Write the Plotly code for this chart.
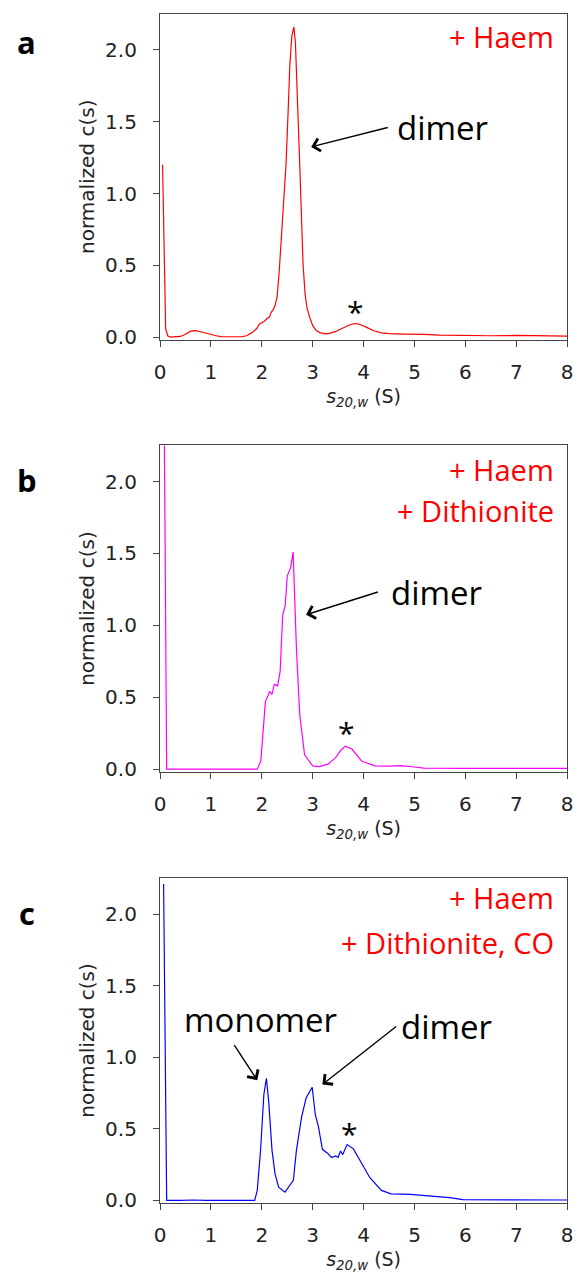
import plotly.graph_objects as go

# ---------------- data ----------------
# Panel a: + Haem
s_a = [0.05, 0.08, 0.11, 0.15, 0.2, 0.4, 0.5, 0.6, 0.7, 0.8, 0.9, 1.0, 1.1, 1.2, 1.4, 1.6, 1.7,
       1.8, 1.9, 1.95, 2.0, 2.05, 2.1, 2.15, 2.18, 2.22, 2.26, 2.30, 2.34, 2.38, 2.43, 2.475,
       2.52, 2.55, 2.59, 2.63, 2.66, 2.68, 2.71, 2.745, 2.78, 2.81, 2.85, 2.89, 2.94, 3.0, 3.07,
       3.15, 3.26, 3.35, 3.45, 3.6, 3.72, 3.82, 3.92, 4.05, 4.2, 4.35, 4.5, 4.8, 5.0, 5.2, 5.5,
       6.0, 6.5, 7.0, 7.5, 8.0]
c_a = [1.20, 0.60, 0.06, 0.01, 0.0, 0.005, 0.02, 0.042, 0.045, 0.038, 0.028, 0.018, 0.01, 0.004,
       0.002, 0.003, 0.01, 0.03, 0.06, 0.09, 0.10, 0.11, 0.13, 0.14, 0.17, 0.19, 0.22, 0.28, 0.45,
       0.70, 0.95, 1.20, 1.60, 1.89, 2.10, 2.16, 2.05, 1.89, 1.55, 1.20, 0.85, 0.51, 0.30, 0.20,
       0.14, 0.08, 0.046, 0.03, 0.023, 0.028, 0.04, 0.065, 0.085, 0.095, 0.09, 0.07, 0.045, 0.03,
       0.025, 0.022, 0.022, 0.02, 0.015, 0.01, 0.01, 0.012, 0.01, 0.008]

# Panel b: + Haem + Dithionite
s_b = [0.05, 0.085, 0.13, 0.3, 0.5, 0.7, 1.0, 1.5, 1.91, 1.98, 2.07, 2.155, 2.2, 2.245, 2.31,
       2.36, 2.41, 2.46, 2.50, 2.565, 2.615, 2.68, 2.745, 2.84, 3.0, 3.13, 3.3, 3.45, 3.55, 3.64,
       3.77, 3.96, 4.22, 4.5, 4.73, 5.0, 5.18, 6.0, 7.0, 8.0]
c_b = [3.0, 2.3, 0.0, 0.0, 0.005, 0.0, 0.0, 0.0, 0.0, 0.057, 0.47, 0.54, 0.52, 0.59, 0.58,
       0.68, 1.07, 1.14, 1.345, 1.40, 1.51, 0.84, 0.38, 0.10, 0.023, 0.018, 0.035, 0.08, 0.13,
       0.16, 0.14, 0.057, 0.023, 0.022, 0.025, 0.015, 0.007, 0.006, 0.005, 0.005]

# Panel c: + Haem + Dithionite, CO
s_c = [0.07, 0.13, 0.4, 0.65, 0.9, 1.5, 1.86, 1.91, 1.975, 2.04, 2.09, 2.135, 2.2, 2.26, 2.33,
       2.455, 2.62, 2.68, 2.78, 2.87, 2.99, 3.05, 3.115, 3.19, 3.29, 3.37, 3.45, 3.50, 3.545,
       3.59, 3.675, 3.80, 3.96, 4.12, 4.35, 4.54, 4.92, 5.24, 5.69, 5.95, 7.0, 8.0]
c_c = [2.21, 0.0, 0.0, 0.003, 0.0, 0.0, 0.0, 0.07, 0.35, 0.74, 0.853, 0.69, 0.35, 0.185, 0.092,
       0.058, 0.14, 0.35, 0.58, 0.715, 0.79, 0.60, 0.51, 0.357, 0.33, 0.30, 0.31, 0.30, 0.345,
       0.32, 0.39, 0.36, 0.265, 0.16, 0.07, 0.046, 0.042, 0.035, 0.02, 0.005, 0.003, 0.003]

x_ticks = [0, 1, 2, 3, 4, 5, 6, 7, 8]
y_ticks = [0.0, 0.5, 1.0, 1.5, 2.0]

panel_letters = ["a", "b", "c"]
conditions = [["+ Haem"], ["+ Haem", "+ Dithionite"], ["+ Haem", "+ Dithionite, CO"]]
line_colors = ["#ff0000", "#ff00ff", "#0000ff"]

# ---------------- figure ----------------
W, H = 581, 1282
fig = go.Figure()

series = [(s_a, c_a), (s_b, c_b), (s_c, c_c)]
for i, (sx, cy) in enumerate(series):
    sfx = "" if i == 0 else str(i + 1)
    fig.add_trace(go.Scatter(x=sx, y=cy, mode="lines", xaxis="x" + sfx, yaxis="y" + sfx,
                             line=dict(color=line_colors[i], width=1.2), showlegend=False,
                             hoverinfo="skip"))

x_dom = [157.3 / W, 573.0 / W]
# panel pixel extents (top, bottom)
panel_px = [(14.0, 342.3), (449.0, 777.7), (885.0, 1212.3)]

tickfont = dict(family="DejaVu Sans", size=20, color="#222")
axcol = "#444"
layout = dict(width=W, height=H, margin=dict(l=0, r=0, t=0, b=0),
              paper_bgcolor="white", plot_bgcolor="white", showlegend=False)

for i, (top, bot) in enumerate(panel_px):
    sfx = "" if i == 0 else str(i + 1)
    layout["xaxis" + sfx] = dict(
        domain=x_dom, anchor="y" + sfx, range=[0, 8], tickvals=x_ticks,
        ticktext=[str(v) for v in x_ticks], ticks="outside", ticklen=6, tickwidth=1.3,
        tickcolor=axcol, showline=True, linecolor=axcol, linewidth=1.3, mirror=True,
        showgrid=False, zeroline=False, tickfont=tickfont, ticklabelstandoff=8,
        title=dict(text="<i>s</i><sub><i>20,w</i></sub> (S)",
                   font=dict(family="DejaVu Sans", size=19, color="#222"), standoff=6))
    layout["yaxis" + sfx] = dict(
        domain=[1 - bot / H, 1 - top / H], anchor="x" + sfx, range=[-0.017, 2.251],
        tickvals=y_ticks, ticktext=["%.1f" % v for v in y_ticks], ticks="outside", ticklen=6,
        tickwidth=1.3, tickcolor=axcol, showline=True, linecolor=axcol, linewidth=1.3,
        mirror=True, showgrid=False, zeroline=False, tickfont=tickfont, ticklabelstandoff=12,
        title=dict(text="normalized c(s)",
                   font=dict(family="DejaVu Sans", size=20, color="#222"), standoff=5))

annotations = []
# panel letters
letter_y = [42, 484, 920]
for i, L in enumerate(panel_letters):
    annotations.append(dict(text="<b>%s</b>" % L, xref="paper", yref="paper", x=21 / W,
                            y=1 - letter_y[i] / H, showarrow=False, xanchor="center",
                            yanchor="middle",
                            font=dict(family="Open Sans", size=31, color="black")))

# condition labels (red)
cond_y = [[36.5], [473.3, 515.0], [905.0, 950.0]]
for i, lines in enumerate(conditions):
    for j, t in enumerate(lines):
        annotations.append(dict(text=t, xref="paper", yref="paper", x=562 / W,
                                y=1 - cond_y[i][j] / H, showarrow=False, xanchor="right",
                                yanchor="middle",
                                font=dict(family="Open Sans", size=29, color="#ff0000")))

lab_font = dict(family="Open Sans", size=33, color="black")
# dimer labels: text box anchored (left, middle) at arrow tail, arrow to the peak
dimers = [
    ("", (4.475, 1.46), (2.97, 1.325), 8),
    ("2", (4.28, 1.232), (2.87, 1.074), 12),
    ("3", (4.64, 1.215), (3.19, 0.81), 4),
]
for sfx, tail, tip, pad in dimers:
    annotations.append(dict(text="dimer", xref="x" + sfx, yref="y" + sfx, x=tip[0], y=tip[1],
                            axref="x" + sfx, ayref="y" + sfx, ax=tail[0], ay=tail[1],
                            xanchor="left", yanchor="middle", font=lab_font, borderpad=pad,
                            showarrow=True, arrowhead=4, arrowsize=1.8, arrowwidth=1.4,
                            arrowcolor="black", standoff=0, startstandoff=0))

# monomer label and its arrow
annotations.append(dict(text="monomer", xref="x3", yref="y3", x=1.98, y=1.263,
                        showarrow=False, xanchor="center", yanchor="middle", font=lab_font))
annotations.append(dict(text="", xref="x3", yref="y3", x=1.91, y=0.84,
                        axref="x3", ayref="y3", ax=1.44, ay=1.095,
                        showarrow=True, arrowhead=4, arrowsize=1.8, arrowwidth=1.4,
                        arrowcolor="black", standoff=0, startstandoff=0))

# asterisks
stars = [("", 3.85, 0.18), ("2", 3.66, 0.257), ("3", 3.725, 0.466)]
for sfx, sx, sy in stars:
    annotations.append(dict(text="*", xref="x" + sfx, yref="y" + sfx, x=sx, y=sy,
                            showarrow=False, xanchor="center", yanchor="middle",
                            font=dict(family="Open Sans", size=30, color="black")))

layout["annotations"] = annotations
fig.update_layout(**layout)
fig.write_html("out.html")
